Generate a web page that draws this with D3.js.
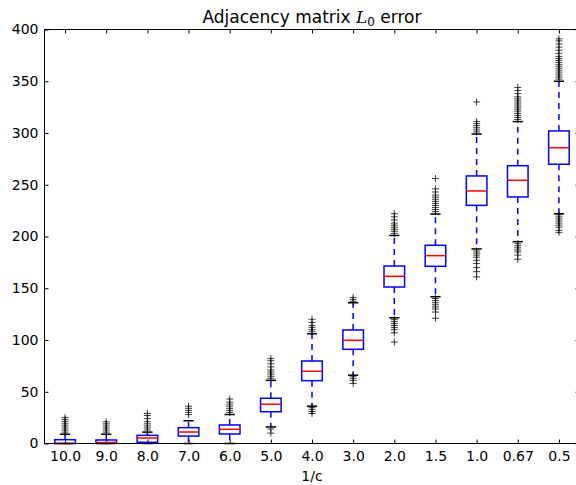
<!DOCTYPE html>
<html>
<head>
<meta charset="utf-8">
<script src="https://cdn.jsdelivr.net/npm/d3@7"></script>
<style>
  body { margin: 0; background: #fff; }
  text { font-family: "DejaVu Sans", sans-serif; fill: #000; }
</style>
</head>
<body>
<div id="chart"></div>
<script>
// x categories (1/c)
const categories = ['10.0', '9.0', '8.0', '7.0', '6.0', '5.0', '4.0', '3.0', '2.0', '1.5', '1.0', '0.67', '0.5'];

// box statistics
const q1s      = [0,   0,   1.2, 7.2,  9.2, 30.7, 60.7, 91,    151.2, 171.2, 230.1, 238.2, 269.8];
const medians  = [0,   1,   5.3, 11.1, 13.7, 37.9, 69.8, 99.7, 161.5, 181.5, 244,   254.3, 285.8];
const q3s      = [3.7, 3.4, 7.9, 15.3, 17.9, 43.7, 79.7, 109.7, 171.5, 191.5, 258.5, 268.4, 302];
const whiskLow = [0,   0,   0,   0,    0,    16,   36,   66,    121.5, 141.8, 188,   195,   222];
const whiskHigh= [9,   9,   11,  22,   28,   61,   106,  136,   201,   221.7, 299,   311,   350];

const outliers = [
  [11, 13, 15, 17, 19, 21, 23, 25],
  [11, 13, 15, 17, 19, 21],
  [13, 15, 17, 19, 21, 24, 27, 29],
  [28, 30, 32, 34, 36],
  [30, 32, 34, 36, 38, 40, 43],
  [63, 65, 67, 69, 71, 74, 77, 80, 82, 14, 10],
  [108, 110, 112, 114, 117, 120, 35, 33, 31, 29],
  [137, 139, 141, 65, 63, 61, 58],
  [203, 205, 207, 209, 211, 213, 216, 219, 222,
   120, 118, 116, 114, 112, 110, 107, 98],
  [224, 226, 228, 230, 232, 234, 236, 238, 240, 243, 246, 256,
   140, 138, 136, 134, 132, 130, 127, 121],
  [301, 303, 305, 307, 309, 311, 330,
   186, 184, 182, 180, 177, 174, 170, 166, 161],
  [313, 315, 317, 319, 321, 323, 325, 327, 329, 331, 333, 335, 338, 341, 344,
   193, 191, 189, 187, 185, 182, 178],
  [352, 354, 356, 358, 360, 362, 364, 366, 368, 370, 372, 374, 377, 380, 383, 386, 389, 391,
   221, 219, 217, 215, 213, 211, 209, 206, 204]
];

const yTicks = [0, 50, 100, 150, 200, 250, 300, 350, 400];

const width = 576, height = 485;
const margin = { top: 29.5, right: -3.5, bottom: 41.5, left: 44.5 };
const innerW = width - margin.left - margin.right;
const innerH = height - margin.top - margin.bottom;

const boxes = categories.map((c, i) => ({
  cat: c, q1: q1s[i], med: medians[i], q3: q3s[i],
  lo: whiskLow[i], hi: whiskHigh[i], fliers: outliers[i]
}));

const svg = d3.select('#chart').append('svg')
  .attr('width', width)
  .attr('height', height);

const g = svg.append('g')
  .attr('transform', `translate(${margin.left},${margin.top})`);

const x = d3.scalePoint()
  .domain(categories)
  .range([0, innerW])
  .padding(0.5);

const y = d3.scaleLinear()
  .domain([0, 400])
  .range([innerH, 0]);

const step = x.step();
const boxW = step * 0.5;
const capW = boxW * 0.5;

// axes with inward ticks on all four sides
const yAxisL = d3.axisLeft(y).tickValues(yTicks).tickSizeInner(-4).tickSizeOuter(0).tickPadding(6);
const yAxisR = d3.axisRight(y).tickValues(yTicks).tickSizeInner(-4).tickSizeOuter(0).tickFormat('');
const xAxisB = d3.axisBottom(x).tickSizeInner(-4).tickSizeOuter(0).tickPadding(8);
const xAxisT = d3.axisTop(x).tickSizeInner(-4).tickSizeOuter(0).tickFormat('');

function styleAxis(sel) {
  sel.select('.domain').remove();
  sel.selectAll('.tick line').attr('stroke', '#000').attr('stroke-width', 1);
  sel.selectAll('.tick text').style('font-size', '14px').style('font-family', '"DejaVu Sans", sans-serif').attr('fill', '#000');
}

g.append('g').call(yAxisL).call(styleAxis);
g.append('g').attr('transform', `translate(${innerW},0)`).call(yAxisR).call(styleAxis);
g.append('g').attr('transform', `translate(0,${innerH})`).call(xAxisB).call(styleAxis);
g.append('g').call(xAxisT).call(styleAxis);

const bx = g.append('g').selectAll('g.box')
  .data(boxes)
  .join('g')
  .attr('class', 'box')
  .attr('transform', d => `translate(${x(d.cat)},0)`);

// whiskers
bx.append('line')
  .attr('x1', 0).attr('x2', 0)
  .attr('y1', d => y(d.q3)).attr('y2', d => y(d.hi))
  .attr('stroke', '#0000ff').attr('stroke-width', 1.5).attr('stroke-dasharray', '6,5');
bx.append('line')
  .attr('x1', 0).attr('x2', 0)
  .attr('y1', d => y(d.q1)).attr('y2', d => y(d.lo))
  .attr('stroke', '#0000ff').attr('stroke-width', 1.5).attr('stroke-dasharray', '6,5');

// caps
bx.selectAll('line.cap')
  .data(d => [d.lo, d.hi])
  .join('line')
  .attr('class', 'cap')
  .attr('x1', -capW / 2).attr('x2', capW / 2)
  .attr('y1', v => y(v)).attr('y2', v => y(v))
  .attr('stroke', '#000').attr('stroke-width', 1.5);

// box
bx.append('rect')
  .attr('x', -boxW / 2)
  .attr('width', boxW)
  .attr('y', d => y(d.q3))
  .attr('height', d => y(d.q1) - y(d.q3))
  .attr('fill', 'none')
  .attr('stroke', '#0000ff')
  .attr('stroke-width', 1.5);

// median
bx.append('line')
  .attr('x1', -boxW / 2).attr('x2', boxW / 2)
  .attr('y1', d => y(d.med)).attr('y2', d => y(d.med))
  .attr('stroke', '#ff0000').attr('stroke-width', 1.5);

// fliers
bx.selectAll('path.flier')
  .data(d => d.fliers)
  .join('path')
  .attr('class', 'flier')
  .attr('d', v => `M-3.5,${y(v)}h7M0,${y(v) - 3.5}v7`)
  .attr('stroke', '#000').attr('stroke-width', 0.9).attr('stroke-opacity', 0.85).attr('fill', 'none');

// frame
g.append('rect')
  .attr('width', innerW).attr('height', innerH)
  .attr('fill', 'none').attr('stroke', '#000').attr('stroke-width', 1);

// title and label
const title = svg.append('text')
  .attr('x', margin.left + innerW / 2)
  .attr('y', 23)
  .attr('text-anchor', 'middle')
  .style('font-size', '17px');
title.append('tspan').text('Adjacency matrix ');
title.append('tspan').style('font-family', '"DejaVu Serif", serif').style('font-style', 'italic').text('L');
title.append('tspan').attr('dy', 3).style('font-size', '12px').text('0');
title.append('tspan').attr('dy', -3).text(' error');

svg.append('text')
  .attr('x', margin.left + innerW / 2)
  .attr('y', 481)
  .attr('text-anchor', 'middle')
  .style('font-size', '14px')
  .text('1/c');
</script>
</body>
</html>
